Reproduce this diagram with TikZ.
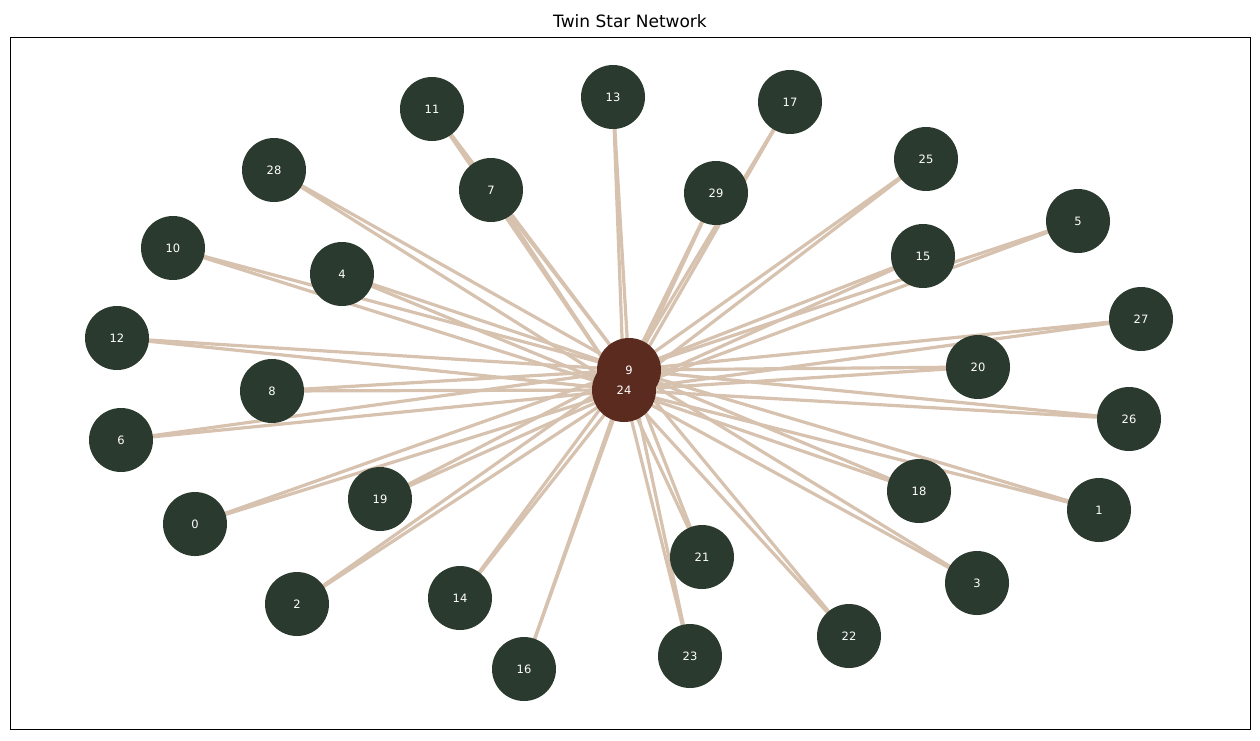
\documentclass[tikz,border=0pt]{standalone}
\usepackage{fontspec}
\setmainfont{DejaVu Sans}
\begin{document}
\begin{tikzpicture}[x=1pt,y=-1pt,
  leaf/.style={circle,fill=leafc,minimum size=64pt,inner sep=0pt},
  hub/.style={circle,fill=hubc,minimum size=64pt,inner sep=0pt},
  lab/.style={text=white,font=\fontsize{11.5}{12}\selectfont},
  edge/.style={draw=edgec,line width=3.2pt}]
\definecolor{leafc}{HTML}{2B3A2F}
\definecolor{hubc}{HTML}{5C2B20}
\definecolor{edgec}{HTML}{D6C2AE}
\useasboundingbox (0,0) rectangle (1260,740);
\node[font=\fontsize{17}{20}\selectfont] (title) at (630,21) {Twin Star Network};
\draw[line width=0.8pt] (10,37) rectangle (1250,729);
\foreach \n/\x/\y in {0/195/524,1/1099/510,2/297/604,3/977/583,4/342/274,5/1078/221,6/121/440,7/491/190,8/272/391,10/173/248,11/432/109,12/117/338,13/613/97,14/460/598,15/923/256,16/524/669,17/790/102,18/919/491,19/380/499,20/978/367,21/702/557,22/849/636,23/690/656,25/926/159,26/1129/419,27/1141/319,28/274/170,29/716/193}
  \coordinate (c\n) at (\x,\y);
\coordinate (c9) at (629,370);
\coordinate (c24) at (624,390);
\foreach \n in {0,1,2,3,4,5,6,7,8,10,11,12,13,14,15,16,17,18,19,20,21,22,23,25,26,27,28,29}
  {\path[edge] (c\n) -- (c9); \path[edge] (c\n) -- (c24);}
\path[edge] (c9) -- (c24);
\foreach \n in {0,1,2,3,4,5,6,7,8,10,11,12,13,14,15,16,17,18,19,20,21,22,23,25,26,27,28,29}
  \node[leaf] (n\n) at (c\n) {};
\node[hub] (n9) at (c9) {};
\node[hub] (n24) at (c24) {};
\foreach \n in {0,1,2,3,4,5,6,7,8,9,10,11,12,13,14,15,16,17,18,19,20,21,22,23,24,25,26,27,28,29}
  \node[lab] (l\n) at (c\n) {\n};
\end{tikzpicture}
\end{document}
